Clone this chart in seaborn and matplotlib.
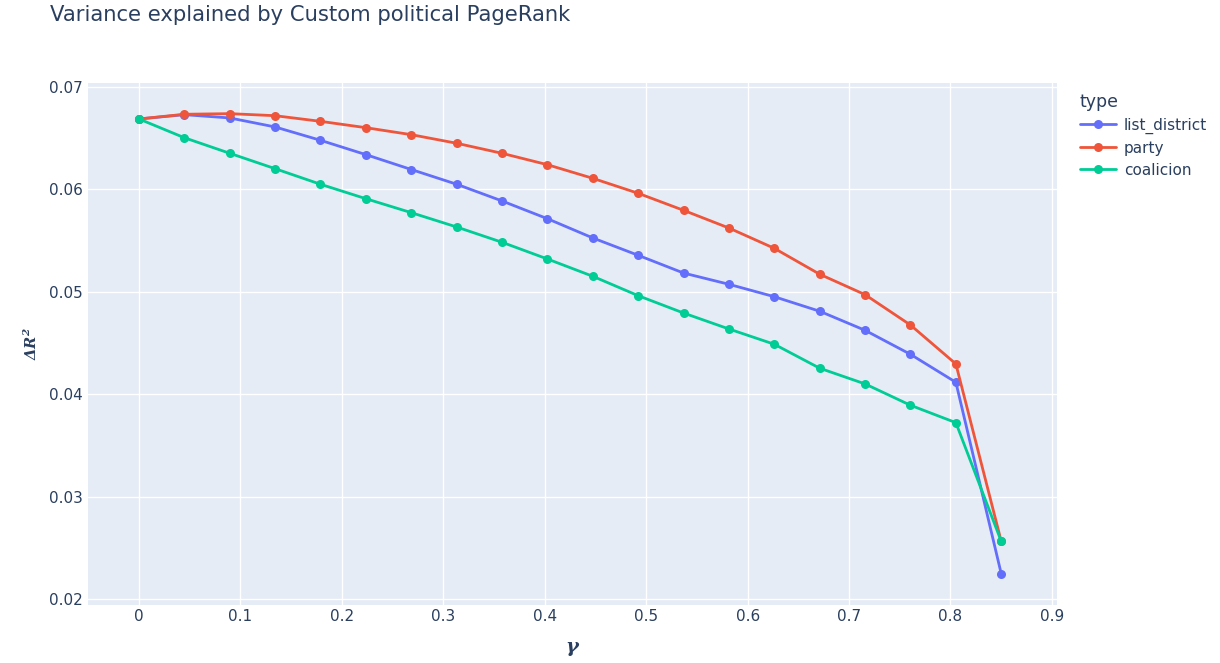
import numpy as np
import pandas as pd
import matplotlib
matplotlib.use("Agg")
import matplotlib.pyplot as plt
import seaborn as sns

# gamma grid and explained variance per network type
gamma = [0.0, 0.0447, 0.0895, 0.1342, 0.1789, 0.2237, 0.2684, 0.3132, 0.3579, 0.4026,
         0.4474, 0.4921, 0.5368, 0.5816, 0.6263, 0.6711, 0.7158, 0.7605, 0.8053, 0.85]

list_district = [0.06685, 0.06727, 0.06695, 0.06607, 0.06477, 0.06337, 0.06192, 0.06048,
                 0.05885, 0.05712, 0.05524, 0.05355, 0.05182, 0.05072, 0.04951, 0.04809,
                 0.04623, 0.04389, 0.04116, 0.02249]
party = [0.06685, 0.06731, 0.06737, 0.06717, 0.06662, 0.06600, 0.06532, 0.06448,
         0.06350, 0.06239, 0.06106, 0.05960, 0.05794, 0.05621, 0.05423, 0.05170,
         0.04971, 0.04675, 0.04295, 0.02565]
coalicion = [0.06685, 0.06502, 0.06350, 0.06200, 0.06048, 0.05907, 0.05771, 0.05631,
             0.05482, 0.05319, 0.05150, 0.04961, 0.04792, 0.04636, 0.04487, 0.04253,
             0.04100, 0.03892, 0.03722, 0.02565]

types = ["list_district", "party", "coalicion"]
colors = ["#636EFA", "#EF553B", "#00CC96"]
x_ticks = [0, 0.1, 0.2, 0.3, 0.4, 0.5, 0.6, 0.7, 0.8, 0.9]
x_tick_labels = ["0", "0.1", "0.2", "0.3", "0.4", "0.5", "0.6", "0.7", "0.8", "0.9"]
y_ticks = [0.02, 0.03, 0.04, 0.05, 0.06, 0.07]
y_tick_labels = ["0.02", "0.03", "0.04", "0.05", "0.06", "0.07"]

df = pd.DataFrame({
    "gamma": gamma * 3,
    "dR2": list_district + party + coalicion,
    "type": [t for t in types for _ in gamma],
})

sns.set_theme(style="darkgrid")
plt.rcParams["font.family"] = ["DejaVu Sans"]
plt.rcParams["mathtext.fontset"] = "dejavuserif"

text_color = "#2a3f5f"
fig = plt.figure(figsize=(12.2, 6.63), dpi=100)
fig.patch.set_facecolor("white")
ax = fig.add_axes([88 / 1220, 1 - 605 / 663, (1057 - 88) / 1220, (605 - 83) / 663])
ax.set_facecolor("#E5ECF6")

sns.lineplot(data=df, x="gamma", y="dR2", hue="type", hue_order=types,
             palette=dict(zip(types, colors)), marker="o", markersize=6.5,
             markeredgewidth=0, linewidth=2, ax=ax, sort=False)

ax.set_xlim(-0.0503, 0.905)
ax.set_ylim(0.01943, 0.07036)
ax.set_xticks(x_ticks)
ax.set_xticklabels(x_tick_labels)
ax.set_yticks(y_ticks)
ax.set_yticklabels(y_tick_labels)
ax.grid(True, color="white", linewidth=1)
ax.tick_params(axis="both", length=0, labelsize=11, labelcolor=text_color)
ax.tick_params(axis="x", pad=3)
ax.tick_params(axis="y", pad=4)
for s in ax.spines.values():
    s.set_visible(False)

ax.set_xlabel(r"$\mathbfit{\gamma}$", fontsize=14, color=text_color, labelpad=11)
ax.set_ylabel(r"$\mathbfit{\Delta R^2}$", fontsize=10.5, color=text_color, labelpad=6)

leg = ax.legend(title="type", loc="upper left", bbox_to_anchor=(1.017, 0.993),
                frameon=False, fontsize=11, title_fontsize=12.5, handlelength=2.4,
                handletextpad=0.5, labelspacing=0.45, borderaxespad=0)
leg._legend_box.align = "left"
for t in leg.get_texts():
    t.set_color(text_color)
leg.get_title().set_color(text_color)

fig.text(50 / 1220, 1 - 15 / 663, "Variance explained by Custom political PageRank",
         fontsize=15.2, color=text_color, ha="left", va="center")

fig.savefig("out.png", dpi=100, facecolor="white")
